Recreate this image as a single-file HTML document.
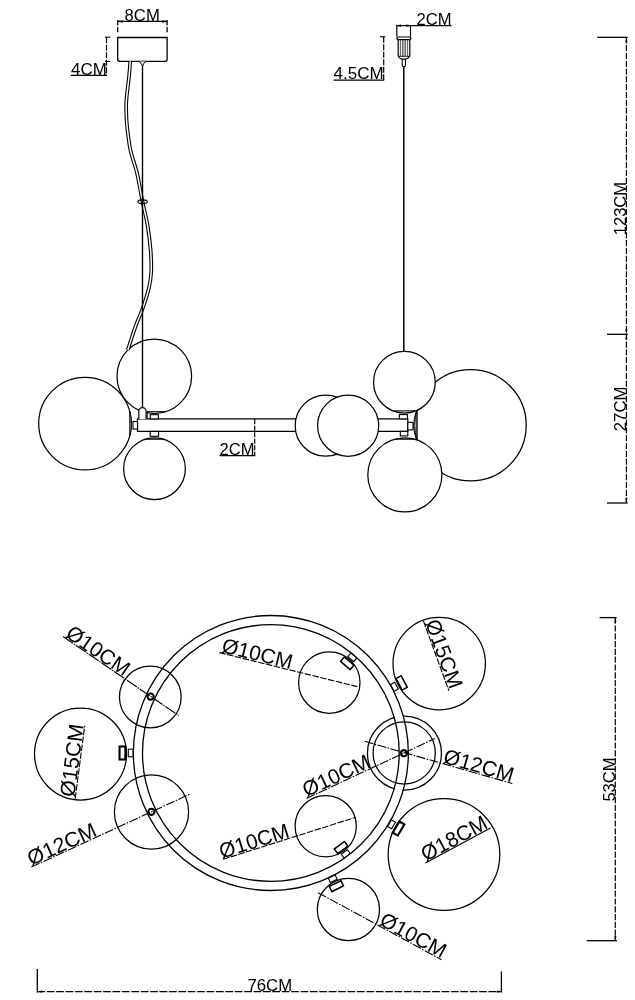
<!DOCTYPE html>
<html><head><meta charset="utf-8"><title>Lamp dimensions</title>
<style>
html,body{margin:0;padding:0;background:#fff;}
body{width:635px;height:1000px;overflow:hidden;}
svg{display:block;filter:grayscale(1);}

svg text{stroke:none;fill:#000;font-family:"Liberation Sans",sans-serif;}
</style></head><body>
<svg width="635" height="1000" viewBox="0 0 635 1000" fill="none" stroke="#000">
<rect x="0" y="0" width="635" height="1000" fill="#fff" style="stroke:none"/>
<path d="M117.7,37.5 H167.1 V59.3 Q167.1,61.3 165.1,61.3 H119.7 Q117.7,61.3 117.7,59.3 Z" stroke-width="1.3" fill="none"/>
<line x1="117.70" y1="21.40" x2="167.10" y2="21.40" stroke-width="1.1"/>
<line x1="117.70" y1="20.00" x2="117.70" y2="32.20" stroke-width="1.3" stroke-dasharray="5.5 1.5"/>
<line x1="167.10" y1="20.00" x2="167.10" y2="32.20" stroke-width="1.3" stroke-dasharray="5.5 1.5"/>
<path d="M118,21.4 L122.5,20.4 L122.5,22.4 Z M166.8,21.4 L162.3,20.4 L162.3,22.4 Z" stroke-width="0.5" fill="#000"/>
<text transform="translate(124.60,20.90) rotate(0.00) scale(1,1.0)" font-size="16" textLength="35.2" lengthAdjust="spacingAndGlyphs">8CM</text>
<line x1="106.50" y1="37.20" x2="106.50" y2="75.40" stroke-width="1.2" stroke-dasharray="6 1.5"/>
<line x1="105.00" y1="37.20" x2="110.30" y2="37.20" stroke-width="1.1"/>
<line x1="105.00" y1="61.50" x2="110.30" y2="61.50" stroke-width="1.1"/>
<line x1="70.80" y1="75.40" x2="107.00" y2="75.40" stroke-width="1.2"/>
<text transform="translate(71.00,74.70) rotate(0.00) scale(1,1.0)" font-size="16" textLength="35.8" lengthAdjust="spacingAndGlyphs">4CM</text>
<line x1="396.80" y1="24.80" x2="396.80" y2="36.80" stroke-width="1.2"/>
<line x1="410.50" y1="24.80" x2="410.50" y2="36.80" stroke-width="1.2"/>
<line x1="396.80" y1="25.60" x2="451.50" y2="25.60" stroke-width="1.1"/>
<path d="M397.2,25.6 L400.8,24.8 L400.8,26.4 Z M410.1,25.6 L406.5,24.8 L406.5,26.4 Z" stroke-width="0.5" fill="#000"/>
<text transform="translate(416.60,25.00) rotate(0.00) scale(1,1.0)" font-size="16" textLength="35.0" lengthAdjust="spacingAndGlyphs">2CM</text>
<rect x="397.00" y="37.00" width="13.80" height="2.60" rx="1" stroke-width="1.2" fill="none"/>
<path d="M398.2,39.6 V56 Q398.6,58 401.6,59.2 H405.9 Q408.9,58 409.8,56 V39.6" stroke-width="1.2" fill="none"/>
<line x1="400.40" y1="40.00" x2="400.40" y2="56.00" stroke-width="0.8" stroke="#333"/>
<line x1="402.40" y1="40.00" x2="402.40" y2="56.00" stroke-width="0.8" stroke="#333"/>
<line x1="404.00" y1="40.00" x2="404.00" y2="56.00" stroke-width="0.8" stroke="#333"/>
<line x1="405.60" y1="40.00" x2="405.60" y2="56.00" stroke-width="0.8" stroke="#333"/>
<line x1="407.60" y1="40.00" x2="407.60" y2="56.00" stroke-width="0.8" stroke="#333"/>
<path d="M398.6,56.3 H409.4" stroke-width="0.9" fill="none"/>
<path d="M402.2,59.2 V65.4 Q402.2,66.7 403.8,66.7 Q405.4,66.7 405.4,65.4 V59.2" stroke-width="1.1" fill="none"/>
<line x1="403.80" y1="66.70" x2="403.80" y2="351.00" stroke-width="1.5"/>
<line x1="383.70" y1="36.80" x2="383.70" y2="80.10" stroke-width="1.2" stroke-dasharray="6 1.5"/>
<line x1="380.00" y1="36.80" x2="385.30" y2="36.80" stroke-width="1.1"/>
<line x1="333.60" y1="80.10" x2="384.20" y2="80.10" stroke-width="1.2"/>
<text transform="translate(333.60,79.30) rotate(0.00) scale(1,1.0)" font-size="16.3" textLength="50.2" lengthAdjust="spacingAndGlyphs">4.5CM</text>
<line x1="597.20" y1="37.30" x2="627.80" y2="37.30" stroke-width="1.3"/>
<line x1="626.40" y1="37.30" x2="626.40" y2="503.00" stroke-width="1.2" stroke-dasharray="6.2 1.6"/>
<line x1="607.00" y1="334.30" x2="627.80" y2="334.30" stroke-width="1.3"/>
<line x1="607.00" y1="503.00" x2="627.60" y2="503.00" stroke-width="1.3"/>
<text transform="translate(626.00,235.20) rotate(-90.00) scale(1,1.0)" font-size="17.2" textLength="53.2" lengthAdjust="spacingAndGlyphs">123CM</text>
<text transform="translate(626.00,431.20) rotate(-90.00) scale(1,1.0)" font-size="17.2" textLength="44.6" lengthAdjust="spacingAndGlyphs">27CM</text>
<path d="M137.5,418.9 H407.8 V431.4 H137.5 Z" stroke-width="1.3" fill="none"/>
<circle cx="85.00" cy="423.60" r="46.30" stroke-width="1.25" fill="#fff"/>
<circle cx="470.60" cy="425.30" r="55.60" stroke-width="1.25" fill="#fff"/>
<path d="M129.8,411.6 A46.3,46.3 0 0 1 129.8,435.6 Z" stroke-width="1.0" fill="#bbb"/>
<path d="M416.9,410.0 Q410.4,425.3 416.9,440.6 Z" stroke-width="1.0" fill="#fff"/>
<path d="M416.9,410.2 A55.6,55.6 0 0 0 416.9,440.4" stroke-width="1.0" fill="#eee"/>
<line x1="416.90" y1="409.60" x2="416.90" y2="441.00" stroke-width="1.2"/>
<circle cx="154.30" cy="376.30" r="37.30" stroke-width="1.25" fill="#fff"/>
<circle cx="154.50" cy="468.70" r="30.85" stroke-width="1.25" fill="#fff"/>
<circle cx="325.70" cy="425.70" r="30.50" stroke-width="1.25" fill="#fff"/>
<circle cx="348.15" cy="425.70" r="30.55" stroke-width="1.25" fill="#fff"/>
<circle cx="404.40" cy="382.20" r="30.85" stroke-width="1.25" fill="#fff"/>
<circle cx="404.85" cy="474.85" r="37.05" stroke-width="1.25" fill="#fff"/>
<rect x="133.00" y="421.50" width="4.50" height="7.50" rx="0" stroke-width="1.1" fill="#fff"/>
<rect x="150.20" y="414.70" width="8.20" height="4.20" rx="0" stroke-width="1.1" fill="#fff"/>
<rect x="150.20" y="431.40" width="8.40" height="4.90" rx="0" stroke-width="1.1" fill="#fff"/>
<line x1="146.90" y1="411.70" x2="165.60" y2="411.70" stroke-width="1.1"/>
<line x1="147.20" y1="411.70" x2="147.20" y2="418.90" stroke-width="1.0"/>
<line x1="144.20" y1="439.20" x2="164.60" y2="439.20" stroke-width="1.1"/>
<path d="M138.8,418.9 V411.3 A3.65,3.65 0 0 1 146.1,411.3 V418.9" stroke-width="1.2" fill="#fff"/>
<rect x="399.40" y="414.60" width="8.00" height="4.30" rx="0" stroke-width="1.1" fill="#fff"/>
<rect x="400.30" y="431.40" width="7.50" height="4.50" rx="0" stroke-width="1.1" fill="#fff"/>
<rect x="407.80" y="422.40" width="5.20" height="7.50" rx="0" stroke-width="1.1" fill="#fff"/>
<line x1="393.50" y1="410.90" x2="415.60" y2="410.90" stroke-width="1.1"/>
<line x1="395.20" y1="439.20" x2="415.60" y2="439.20" stroke-width="1.1"/>
<path d="M130.20,61.30 C130.03,63.58 129.83,68.55 129.20,75.00 C128.57,81.45 126.88,93.67 126.40,100.00 C125.92,106.33 126.20,108.73 126.30,113.00 C126.40,117.27 126.32,119.43 127.00,125.60 C127.68,131.77 128.73,142.10 130.40,150.00 C132.07,157.90 134.98,164.40 137.00,173.00 C139.02,181.60 140.73,192.83 142.50,201.60 C144.27,210.37 146.25,217.53 147.60,225.60 C148.95,233.67 150.00,242.27 150.60,250.00 C151.20,257.73 151.48,265.67 151.20,272.00 C150.92,278.33 150.35,281.83 148.90,288.00 C147.45,294.17 144.68,302.73 142.50,309.00 C140.32,315.27 138.25,318.77 135.80,325.60 C133.35,332.43 129.13,345.93 127.80,350.00" stroke-width="3.7" fill="none"/>
<path d="M130.20,61.30 C130.03,63.58 129.83,68.55 129.20,75.00 C128.57,81.45 126.88,93.67 126.40,100.00 C125.92,106.33 126.20,108.73 126.30,113.00 C126.40,117.27 126.32,119.43 127.00,125.60 C127.68,131.77 128.73,142.10 130.40,150.00 C132.07,157.90 134.98,164.40 137.00,173.00 C139.02,181.60 140.73,192.83 142.50,201.60 C144.27,210.37 146.25,217.53 147.60,225.60 C148.95,233.67 150.00,242.27 150.60,250.00 C151.20,257.73 151.48,265.67 151.20,272.00 C150.92,278.33 150.35,281.83 148.90,288.00 C147.45,294.17 144.68,302.73 142.50,309.00 C140.32,315.27 138.25,318.77 135.80,325.60 C133.35,332.43 129.13,345.93 127.80,350.00" stroke-width="1.5" fill="none" stroke="#fff"/>
<line x1="142.50" y1="61.30" x2="142.50" y2="408.00" stroke-width="1.4"/>
<path d="M139.0,61.6 Q141.6,62.6 142.5,66.2 Q143.4,62.6 146.0,61.6" stroke-width="1.0" fill="#fff"/>
<ellipse cx="142.6" cy="201.8" rx="4.8" ry="1.9" stroke-width="1.1" fill="none"/>
<line x1="254.70" y1="419.20" x2="254.70" y2="455.70" stroke-width="1.2" stroke-dasharray="5 1.5"/>
<line x1="219.60" y1="455.70" x2="255.20" y2="455.70" stroke-width="1.2"/>
<text transform="translate(219.60,455.00) rotate(0.00) scale(1,1.0)" font-size="16" textLength="35.0" lengthAdjust="spacingAndGlyphs">2CM</text>
<circle cx="404.45" cy="753.15" r="37.00" stroke-width="1.25" fill="none"/>
<circle cx="270.85" cy="753.00" r="132.93" stroke-width="8.0" fill="none" stroke="#fff"/>
<circle cx="270.85" cy="753.00" r="137.50" stroke-width="1.3" fill="none"/>
<circle cx="270.85" cy="753.00" r="128.35" stroke-width="1.3" fill="none"/>
<circle cx="150.30" cy="697.00" r="30.85" stroke-width="1.25" fill="none"/>
<circle cx="80.50" cy="754.00" r="46.00" stroke-width="1.25" fill="none"/>
<circle cx="151.50" cy="812.00" r="37.10" stroke-width="1.25" fill="none"/>
<circle cx="329.30" cy="682.60" r="30.70" stroke-width="1.25" fill="none"/>
<circle cx="439.20" cy="663.60" r="46.20" stroke-width="1.25" fill="none"/>
<circle cx="404.20" cy="752.90" r="31.10" stroke-width="1.25" fill="none"/>
<circle cx="325.70" cy="826.20" r="30.60" stroke-width="1.25" fill="none"/>
<circle cx="444.00" cy="854.50" r="55.80" stroke-width="1.25" fill="none"/>
<circle cx="348.40" cy="909.50" r="31.10" stroke-width="1.25" fill="none"/>
<circle cx="150.60" cy="696.60" r="3.10" stroke-width="2.1" fill="#fff"/>
<circle cx="151.40" cy="811.80" r="3.10" stroke-width="2.1" fill="#fff"/>
<circle cx="403.90" cy="753.20" r="3.10" stroke-width="2.1" fill="#fff"/>
<rect x="-2.35" y="-3.80" width="4.70" height="7.60" stroke-width="1.1" fill="#fff" transform="translate(130.65,753.00) rotate(180.00)"/>
<rect x="-2.90" y="-6.50" width="5.80" height="13.00" stroke-width="2.1" fill="none" transform="translate(122.45,753.00) rotate(180.00)"/>
<rect x="-2.35" y="-3.80" width="4.70" height="7.60" stroke-width="1.1" fill="#fff" transform="translate(352.25,657.35) rotate(-49.60)"/>
<rect x="-2.90" y="-6.30" width="5.80" height="12.60" stroke-width="1.5" fill="none" transform="translate(347.20,663.29) rotate(-49.60)"/>
<rect x="-2.35" y="-3.80" width="4.70" height="7.60" stroke-width="1.1" fill="#fff" transform="translate(394.41,686.75) rotate(-28.20)"/>
<rect x="-2.90" y="-6.50" width="5.80" height="13.00" stroke-width="1.5" fill="none" transform="translate(401.64,682.87) rotate(-28.20)"/>
<rect x="-2.35" y="-3.80" width="4.70" height="7.60" stroke-width="1.1" fill="#fff" transform="translate(391.53,824.37) rotate(30.60)"/>
<rect x="-2.90" y="-6.50" width="5.80" height="13.00" stroke-width="2.1" fill="none" transform="translate(398.58,828.54) rotate(30.60)"/>
<rect x="-2.35" y="-3.80" width="4.70" height="7.60" stroke-width="1.1" fill="#fff" transform="translate(345.74,853.83) rotate(53.40)"/>
<rect x="-2.90" y="-6.30" width="5.80" height="12.60" stroke-width="1.5" fill="none" transform="translate(341.09,847.57) rotate(53.40)"/>
<rect x="-2.35" y="-3.80" width="4.70" height="7.60" stroke-width="1.1" fill="#fff" transform="translate(332.75,878.80) rotate(63.80)"/>
<rect x="-2.90" y="-6.50" width="5.80" height="13.00" stroke-width="1.5" fill="none" transform="translate(336.37,886.15) rotate(63.80)"/>
<line x1="63.00" y1="636.50" x2="178.70" y2="715.60" stroke-width="1.1" stroke-dasharray="12 1 1.5 1"/>
<text transform="translate(64.39,636.24) rotate(34.36) scale(1,1.0)" font-size="21" textLength="72.0" lengthAdjust="spacingAndGlyphs">Ø10CM</text>
<line x1="75.20" y1="798.60" x2="84.70" y2="725.80" stroke-width="1.1" stroke-dasharray="6.5 1.5"/>
<text transform="translate(74.34,797.48) rotate(-82.57) scale(1,1.0)" font-size="21" textLength="73.0" lengthAdjust="spacingAndGlyphs">Ø15CM</text>
<line x1="31.30" y1="867.10" x2="189.50" y2="794.30" stroke-width="1.1" stroke-dasharray="9 1.5 1.5 1.5"/>
<text transform="translate(31.34,865.98) rotate(-24.71) scale(1,1.0)" font-size="21" textLength="73.5" lengthAdjust="spacingAndGlyphs">Ø12CM</text>
<line x1="219.30" y1="652.60" x2="357.30" y2="686.60" stroke-width="1.1" stroke-dasharray="6.5 1.5"/>
<text transform="translate(220.70,651.92) rotate(13.84) scale(1,1.0)" font-size="21" textLength="72.0" lengthAdjust="spacingAndGlyphs">Ø10CM</text>
<line x1="423.40" y1="620.90" x2="448.90" y2="690.70" stroke-width="1.1" stroke-dasharray="6.5 1.5"/>
<text transform="translate(425.03,622.44) rotate(69.93) scale(1,1.0)" font-size="21" textLength="72.0" lengthAdjust="spacingAndGlyphs">Ø15CM</text>
<line x1="364.60" y1="741.30" x2="512.30" y2="783.50" stroke-width="1.1" stroke-dasharray="9 1.5 1.5 1.5"/>
<text transform="translate(442.28,762.45) rotate(15.95) scale(1,1.0)" font-size="21" textLength="72.0" lengthAdjust="spacingAndGlyphs">Ø12CM</text>
<line x1="306.50" y1="798.40" x2="434.80" y2="738.60" stroke-width="1.1" stroke-dasharray="9 1.5 1.5 1.5"/>
<text transform="translate(306.53,797.28) rotate(-24.99) scale(1,1.0)" font-size="21" textLength="72.0" lengthAdjust="spacingAndGlyphs">Ø10CM</text>
<line x1="223.10" y1="859.30" x2="356.10" y2="817.20" stroke-width="1.1" stroke-dasharray="6.5 1.5"/>
<text transform="translate(221.84,858.65) rotate(-17.56) scale(1,1.0)" font-size="21" textLength="72.0" lengthAdjust="spacingAndGlyphs">Ø10CM</text>
<line x1="425.40" y1="863.10" x2="490.50" y2="827.90" stroke-width="1.1"/>
<text transform="translate(425.80,861.74) rotate(-28.40) scale(1,1.0)" font-size="21" textLength="72.0" lengthAdjust="spacingAndGlyphs">Ø18CM</text>
<line x1="318.10" y1="892.70" x2="441.50" y2="959.70" stroke-width="1.1" stroke-dasharray="9 1.5 1.5 1.5"/>
<text transform="translate(378.34,924.27) rotate(28.50) scale(1,1.0)" font-size="21" textLength="72.0" lengthAdjust="spacingAndGlyphs">Ø10CM</text>
<line x1="599.60" y1="617.60" x2="616.60" y2="617.60" stroke-width="1.3"/>
<line x1="615.30" y1="617.60" x2="615.30" y2="940.70" stroke-width="1.2" stroke-dasharray="6.2 1.6"/>
<line x1="586.60" y1="940.70" x2="617.00" y2="940.70" stroke-width="1.3"/>
<text transform="translate(615.40,801.60) rotate(-90.00) scale(1,1.0)" font-size="17.3" textLength="44.2" lengthAdjust="spacingAndGlyphs">53CM</text>
<line x1="37.30" y1="968.90" x2="37.30" y2="992.50" stroke-width="1.3"/>
<line x1="501.40" y1="971.50" x2="501.40" y2="992.50" stroke-width="1.3"/>
<line x1="37.30" y1="991.60" x2="501.40" y2="991.60" stroke-width="1.2" stroke-dasharray="7.8 1.6"/>
<text transform="translate(247.40,991.20) rotate(0.00) scale(1,1.0)" font-size="17" textLength="44.8" lengthAdjust="spacingAndGlyphs">76CM</text>
<path d="M37.60,991.60 L41.80,990.70 L41.80,992.50 Z" stroke-width="0.3" fill="#000"/>
<path d="M501.10,991.60 L496.90,992.50 L496.90,990.70 Z" stroke-width="0.3" fill="#000"/>
<path d="M626.40,37.80 L627.30,42.00 L625.50,42.00 Z" stroke-width="0.3" fill="#000"/>
<path d="M626.40,333.80 L625.50,329.60 L627.30,329.60 Z" stroke-width="0.3" fill="#000"/>
<path d="M626.40,334.80 L627.30,339.00 L625.50,339.00 Z" stroke-width="0.3" fill="#000"/>
<path d="M626.40,502.60 L625.50,498.40 L627.30,498.40 Z" stroke-width="0.3" fill="#000"/>
<path d="M615.30,618.00 L616.20,622.20 L614.40,622.20 Z" stroke-width="0.3" fill="#000"/>
<path d="M615.30,940.30 L614.40,936.10 L616.20,936.10 Z" stroke-width="0.3" fill="#000"/>
</svg>
</body></html>
